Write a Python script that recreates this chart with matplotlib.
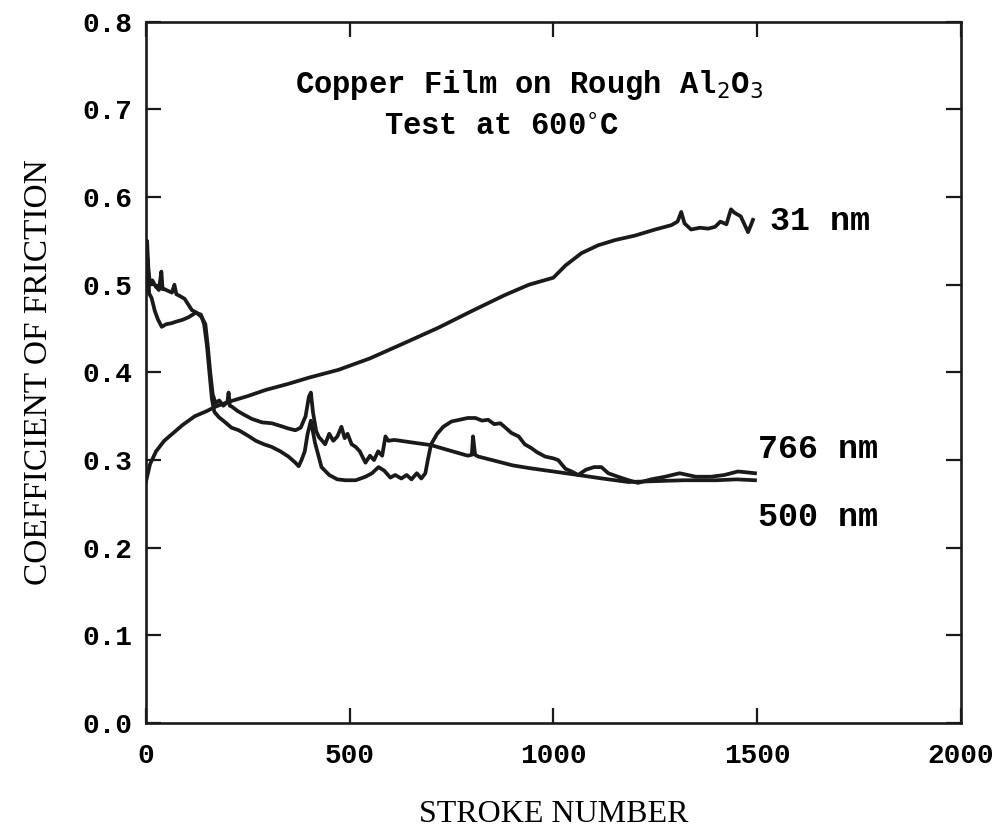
import matplotlib
matplotlib.use("Agg")
import matplotlib.pyplot as plt

# friction coefficient vs stroke number, copper films on rough Al2O3 at 600 C
x31 = [0, 10, 25, 45, 65, 90, 120, 150, 171, 200, 250, 294, 350, 400, 473, 550,
       637, 718, 800, 880, 940, 1000, 1030, 1069, 1110, 1152, 1200, 1250, 1290,
       1305, 1314, 1322, 1338, 1360, 1380, 1397, 1410, 1425, 1436, 1445, 1460,
       1478, 1485, 1490]
y31 = [0.275, 0.295, 0.31, 0.322, 0.33, 0.34, 0.35, 0.356, 0.361, 0.366, 0.373,
       0.380, 0.387, 0.394, 0.403, 0.416, 0.434, 0.451, 0.47, 0.488, 0.50, 0.508,
       0.522, 0.536, 0.545, 0.551, 0.556, 0.563, 0.568, 0.572, 0.583, 0.57,
       0.563, 0.565, 0.564, 0.566, 0.572, 0.569, 0.586, 0.582, 0.578, 0.56,
       0.568, 0.574]

x500 = [0, 3, 6, 10, 16, 24, 32, 38, 41, 45, 64, 70, 75, 80, 95, 113, 125, 137,
        146, 152, 158, 164, 171, 180, 190, 200, 203, 206, 211, 225, 240, 260,
        285, 309, 330, 350, 367, 380, 392, 400, 405, 410, 418, 425, 431, 440,
        450, 460, 470, 480, 488, 495, 505, 515, 525, 539, 550, 560, 570, 580,
        588, 595, 610, 640, 670, 701, 730, 760, 790, 800, 803, 808, 816, 850,
        900, 939, 1000, 1061, 1120, 1184, 1250, 1320, 1400, 1450, 1495]
y500 = [0.50, 0.55, 0.52, 0.50, 0.505, 0.498, 0.494, 0.515, 0.495, 0.495, 0.491,
        0.50, 0.489, 0.488, 0.484, 0.471, 0.468, 0.463, 0.455, 0.43, 0.40,
        0.375, 0.365, 0.368, 0.362, 0.366, 0.377, 0.362, 0.361, 0.356, 0.352,
        0.347, 0.343, 0.342, 0.339, 0.336, 0.334, 0.337, 0.35, 0.372, 0.377,
        0.355, 0.333, 0.326, 0.323, 0.318, 0.33, 0.322, 0.327, 0.338, 0.325,
        0.33, 0.318, 0.315, 0.31, 0.297, 0.305, 0.30, 0.31, 0.305, 0.327,
        0.322, 0.323, 0.321, 0.319, 0.317, 0.313, 0.309, 0.305, 0.306, 0.327,
        0.306, 0.304, 0.300, 0.294, 0.291, 0.287, 0.283, 0.279, 0.275, 0.276,
        0.277, 0.277, 0.278, 0.277]

x766 = [0, 4, 8, 14, 22, 30, 39, 50, 62, 75, 90, 105, 122, 135, 143, 150, 156,
        162, 168, 179, 195, 210, 228, 250, 270, 290, 309, 330, 350, 367, 375,
        382, 390, 397, 405, 415, 431, 450, 470, 490, 515, 539, 555, 571, 585,
        600, 612, 627, 640, 652, 665, 676, 686, 692, 700, 715, 730, 750, 770,
        790, 809, 825, 840, 855, 870, 885, 897, 915, 930, 945, 960, 980, 1000,
        1012, 1030, 1045, 1061, 1080, 1100, 1118, 1135, 1159, 1185, 1208, 1240,
        1274, 1310, 1350, 1387, 1420, 1453, 1475, 1495]
y766 = [0.51, 0.53, 0.49, 0.485, 0.47, 0.46, 0.452, 0.455, 0.456, 0.458, 0.46,
        0.463, 0.468, 0.466, 0.455, 0.43, 0.40, 0.37, 0.355, 0.349, 0.343,
        0.337, 0.334, 0.328, 0.322, 0.318, 0.315, 0.31, 0.304, 0.297, 0.293,
        0.30, 0.31, 0.33, 0.345, 0.32, 0.292, 0.283, 0.278, 0.277, 0.277, 0.281,
        0.285, 0.292, 0.288, 0.28, 0.283, 0.279, 0.283, 0.278, 0.285, 0.279,
        0.285, 0.30, 0.318, 0.33, 0.338, 0.344, 0.346, 0.348, 0.348, 0.345,
        0.346, 0.341, 0.342, 0.336, 0.331, 0.327, 0.318, 0.314, 0.309, 0.304,
        0.302, 0.300, 0.29, 0.287, 0.283, 0.289, 0.292, 0.292, 0.285, 0.281,
        0.277, 0.274, 0.278, 0.281, 0.285, 0.281, 0.281, 0.283, 0.287, 0.286,
        0.285]

xticks = [0, 500, 1000, 1500, 2000]
yticks = [0.0, 0.1, 0.2, 0.3, 0.4, 0.5, 0.6, 0.7, 0.8]

mono = "Liberation Mono"
serif = "Liberation Serif"

fig = plt.figure(figsize=(10.06, 8.35), dpi=100)
ax = fig.add_axes([0.145, 0.134, 0.81, 0.84])

for xs, ys in [(x31, y31), (x500, y500), (x766, y766)]:
    ax.plot(xs, ys, color="#1a1a1a", lw=2.7, solid_joinstyle="round")

ax.set_xlim(0, 2000)
ax.set_ylim(0, 0.8)
ax.set_xticks(xticks)
ax.set_yticks(yticks)
ax.set_xticklabels([str(t) for t in xticks], family=mono, weight="bold", fontsize=20)
ax.set_yticklabels([f"{t:.1f}" for t in yticks], family=mono, weight="bold", fontsize=20)
ax.tick_params(direction="in", length=11, width=1.6, top=True, right=True,
               color="#1a1a1a", pad=10)
ax.tick_params(axis="x", pad=14)
for s in ax.spines.values():
    s.set_linewidth(1.9)
    s.set_color("#1a1a1a")

ax.set_xlabel("STROKE NUMBER", family=serif, fontsize=23, labelpad=23)
ax.set_ylabel("COEFFICIENT OF FRICTION", family=serif, fontsize=24, labelpad=20)

ax.text(940, 0.728, r"Copper Film on Rough Al$_2$O$_3$", family=mono, fontsize=22,
        weight="bold", ha="center", va="center")
ax.text(874, 0.680, r"Test at 600$^{\circ}$C", family=mono, fontsize=22,
        weight="bold", ha="center", va="center")

ax.text(1532, 0.572, "31 nm", family=mono, fontsize=24, weight="bold", va="center")
ax.text(1502, 0.312, "766 nm", family=mono, fontsize=24, weight="bold", va="center")
ax.text(1502, 0.234, "500 nm", family=mono, fontsize=24, weight="bold", va="center")

fig.savefig("out.png", dpi=100)
